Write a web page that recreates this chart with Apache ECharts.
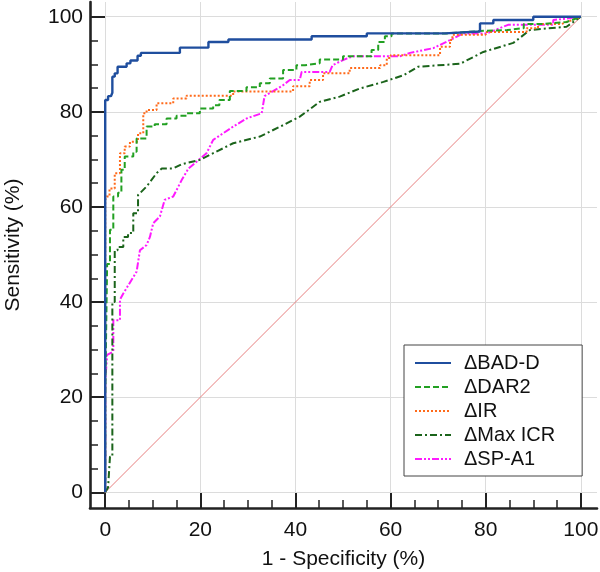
<!DOCTYPE html>
<html>
<head>
<meta charset="utf-8">
<script src="https://cdn.jsdelivr.net/npm/echarts@6/dist/echarts.min.js"></script>
<style>html,body{margin:0;padding:0;background:#fff;}#c{width:600px;height:572px;}</style>
</head>
<body>
<div id="c"></div>
<script>
var seriesNames = ['\u0394BAD-D', '\u0394DAR2', '\u0394IR', '\u0394Max ICR', '\u0394SP-A1'];
var majorTicks = [0, 20, 40, 60, 80, 100];
var minorTicks = [5, 10, 15, 25, 30, 35, 45, 50, 55, 65, 70, 75, 85, 90, 95];
var reference = [[0, 0], [100, 100]];

var badD = [[0,0],[0,82.5],[0.6,82.5],[0.6,83.3],[1.2,83.3],[1.5,84],[1.5,87.4],[2.0,87.4],[2.0,88.1],[2.6,88.1],[2.6,89.5],[4.5,89.5],[4.5,90.2],[5.3,90.2],[5.3,90.8],[6.8,90.8],[6.8,91.8],[7.5,91.8],[7.5,92.4],[15.7,92.4],[15.7,93.5],[21.7,93.5],[21.7,94.7],[25.9,94.7],[25.9,95.2],[43.4,95.2],[43.4,95.9],[55,95.9],[55,96.5],[71.4,96.5],[71.4,96.9],[78.8,96.9],[78.8,98.6],[81.6,98.6],[81.6,99.3],[90,99.3],[90,100],[100,100]];

var dar2 = [[0,0],[0,20],[0.4,20],[0.4,48],[1.0,48],[1.0,55.2],[1.7,55.2],[1.7,62.2],[2.7,62.2],[2.7,63],[3.4,63],[3.4,67.8],[4.1,67.8],[4.1,70.6],[5.9,70.6],[5.9,71.6],[6.6,71.6],[6.6,74.4],[8.7,74.4],[8.7,76.9],[10.4,76.9],[10.4,77.4],[12.9,77.4],[12.9,78.6],[15,78.6],[15,79.2],[17.1,79.2],[17.1,79.7],[19.9,79.7],[19.9,80.7],[22.7,80.7],[22.7,81.4],[24,81.4],[24,82.5],[26.2,82.5],[26.2,84.4],[29.7,84.4],[29.7,85.2],[32.5,85.2],[32.5,86],[34.6,86],[34.6,87],[37.4,87],[37.4,88.8],[40.2,88.8],[40.2,89.8],[42,89.8],[42,90.2],[45.1,90.2],[45.1,91],[50,91],[50,91.7],[56,91.7],[56,93],[57.4,93],[57.4,94.7],[58.8,94.7],[58.8,95.9],[60.2,95.9],[60.2,96.5],[71.8,96.5],[71.8,96.8],[76,96.8],[76,97],[78.8,97],[78.8,97.2],[84.5,97.2],[84.5,97.6],[88,97.6],[88,98.5],[92,98.5],[92,98.9],[97,98.9],[100,100]];

var ir = [[0,0],[0,61.5],[0.3,61.5],[0.3,62.2],[0.9,62.2],[0.9,63.9],[2,63.9],[2,67.1],[3.1,67.1],[3.1,71.3],[4.1,71.3],[4.1,72.7],[5.2,72.7],[5.2,73.7],[6.9,73.7],[6.9,75.5],[8,75.5],[8,79.7],[8.7,79.7],[8.7,80.4],[10.8,80.4],[10.8,81.8],[14.3,81.8],[14.3,82.8],[17.1,82.8],[17.1,83.4],[26.9,83.4],[26.9,84.3],[39.5,84.3],[39.5,85.4],[43,85.4],[43,86.7],[45.8,86.7],[45.8,88.1],[51.4,88.1],[51.4,89.2],[57.8,89.2],[57.8,89.8],[59.2,89.8],[59.2,91.3],[60,91.3],[60,91.9],[70.4,91.9],[70.4,93.7],[72.5,93.7],[72.5,95.1],[73,95.1],[73,96.2],[80,96.2],[80,96.8],[88.6,96.8],[88.6,97.6],[91,97.6],[91,98.5],[96,98.5],[100,100]];

var maxIcr = [[0,0],[0.6,1],[1,1],[1,7.5],[1.5,7.5],[1.5,40],[2,40],[2,50.9],[2.6,50.9],[2.6,51.6],[3.8,51.6],[3.8,53.7],[4.8,53.7],[4.8,54.5],[5.9,54.5],[5.9,58.7],[6.9,58.7],[6.9,62.5],[8.7,64.3],[10.8,67.1],[11.9,68.1],[14.3,68.1],[16.1,69],[19.9,69.9],[26.9,73.4],[32.5,74.8],[37.4,77.2],[40.9,79],[45.1,82.1],[49.3,83.2],[53.5,84.9],[58.5,86.3],[62.7,87.7],[65.8,89.5],[74.6,90.1],[79.5,92.6],[85.8,94.5],[89.3,97.2],[97,97.9],[100,100]];

var spA1 = [[0,0],[0,23.3],[0.4,23.3],[0.4,28.9],[1.7,29.6],[1.7,36.2],[3.1,36.2],[3.1,40.5],[3.8,41.8],[5.5,44.6],[6.6,46.4],[7.3,50.9],[8.7,52],[9.4,53.7],[10.1,56.6],[11.5,58],[12.5,61.5],[14.3,62.2],[16.1,65.7],[17.5,68.1],[19.2,69.5],[21.3,71.3],[22.7,74.1],[24.8,75.5],[26.9,76.9],[29.7,78.6],[32.9,79.7],[33.5,83.3],[37.4,85.6],[38.8,86.7],[40.9,86.7],[41.3,88.4],[47.2,88.4],[47.8,89.8],[50,90.9],[52.1,91.7],[62,91.7],[64.1,92.4],[69,93.4],[72.5,95.1],[75.3,96.5],[80.2,96.5],[84.7,98.3],[94.2,98.3],[94.2,99.3],[100,100]];

var seriesData = [badD, dar2, ir, maxIcr, spA1];
var colors = ['#1f4e9e', '#22a022', '#ff6a1a', '#1b641b', '#ff1aff'];
var widths = [2.4, 2, 2, 2, 2];
var dashes = ['solid', [6, 3], [2, 2], [7, 3, 2, 3], [7, 2, 2, 2, 2, 2]];

var xMin = -3.2, xMax = 103.4, yMin = -3.3, yMax = 103.1;
var textColor = '#111';
var axisColor = '#222';
var fontFam = 'Liberation Sans, Arial, sans-serif';

function mainAxis(isX) {
  return {
    type: 'value', min: isX ? xMin : yMin, max: isX ? xMax : yMax,
    position: isX ? 'bottom' : 'left',
    name: isX ? '1 - Specificity (%)' : 'Sensitivity (%)',
    nameLocation: 'middle', nameGap: isX ? 41 : 66,
    nameTextStyle: { fontSize: 21, color: textColor, fontFamily: fontFam, padding: isX ? [0, 0, 0, 0] : [0, 0, 0, 20] },
    axisLine: { show: true, onZero: false, lineStyle: { color: axisColor, width: 2.6 } },
    axisTick: { show: true, inside: true, length: 15, customValues: majorTicks, lineStyle: { color: axisColor, width: 2 } },
    axisLabel: { show: true, customValues: majorTicks, fontSize: 21, color: textColor, margin: isX ? 12 : 7, fontFamily: fontFam },
    splitLine: { show: true, lineStyle: { color: '#dcdcdc', width: 1 } }
  };
}
function minorAxis(isX) {
  return {
    type: 'value', min: isX ? xMin : yMin, max: isX ? xMax : yMax,
    position: isX ? 'bottom' : 'left',
    axisLine: { show: false, onZero: false },
    axisTick: { show: true, inside: true, length: 8, customValues: minorTicks, lineStyle: { color: axisColor, width: 1.5 } },
    axisLabel: { show: false },
    splitLine: { show: false }
  };
}

var series = [{
  type: 'line', data: reference, symbol: 'none', silent: true,
  lineStyle: { color: '#e88080', width: 1 }, z: 1
}];
for (var i = 0; i < seriesNames.length; i++) {
  series.push({
    name: seriesNames[i], type: 'line', data: seriesData[i], symbol: 'none',
    xAxisIndex: 0, yAxisIndex: 0,
    itemStyle: { color: colors[i] },
    lineStyle: { color: colors[i], width: widths[i], type: dashes[i] },
    z: 2 + (seriesNames.length - i)
  });
}

var chart = echarts.init(document.getElementById('c'), null, { renderer: 'canvas' });
chart.setOption({
  animation: false,
  backgroundColor: '#fff',
  grid: { left: 90, right: 3, top: 2, bottom: 64, containLabel: false, outerBoundsMode: 'none' },
  xAxis: [mainAxis(true), minorAxis(true)],
  yAxis: [mainAxis(false), minorAxis(false)],
  legend: {
    data: seriesNames, orient: 'vertical', left: 404, top: 345,
    backgroundColor: '#fff', borderColor: '#444', borderWidth: 1, borderRadius: 0,
    padding: [8, 27, 7, 10], itemWidth: 36, itemHeight: 14, itemGap: 4,
    itemStyle: { opacity: 0 },
    textStyle: { fontSize: 20, lineHeight: 20, color: textColor, fontFamily: fontFam, padding: [0, 0, 0, 8] }
  },
  series: series
});
</script>
</body>
</html>
